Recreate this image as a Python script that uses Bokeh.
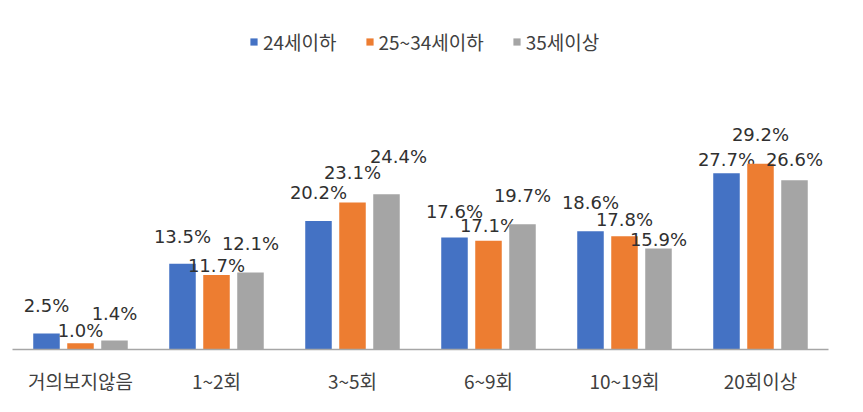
from bokeh.plotting import figure
from bokeh.models import ColumnDataSource, FactorRange, Range1d, Legend, LegendItem
from bokeh.transform import dodge
from bokeh.core.properties import value
from bokeh.embed import file_html
from bokeh.resources import INLINE

# ---- data ----
categories = ["거의보지않음", "1~2회", "3~5회", "6~9회", "10~19회", "20회이상"]
series_names = ["24세이하", "25~34세이하", "35세이상"]
age_24_under = [2.5, 13.5, 20.2, 17.6, 18.6, 27.7]
age_25_34 = [1.0, 11.7, 23.1, 17.1, 17.8, 29.2]
age_35_over = [1.4, 12.1, 24.4, 19.7, 15.9, 26.6]

# ---- layout / style ----
colors = ["#4472C4", "#ED7D31", "#A5A5A5"]
offsets = [-0.25, 0.0, 0.25]
bar_width = 0.195
# data-label placement (pixels above bar top, horizontal shift) as in the original
label_dy = [[28, 27, 29, 26, 29, 14],
            [13, 10, 30, 15, 17, 29],
            [27, 29, 38, 29, 9, 21]]
label_dx = [[0, 0, 0, 0, 0, 0],
            [0, 0, 0, 0, 0, 0],
            [0, 0, 12, 0, 0, 0]]

W, H = 863, 412
top_b, bot_b, left_b, right_b = 15, 63, 12, 35
ppu = 6.36
frame_h = H - top_b - bot_b
y_max = frame_h / ppu

p = figure(width=W, height=H, x_range=FactorRange(factors=categories),
           y_range=Range1d(0, y_max), output_backend="svg", toolbar_location=None,
           y_axis_location=None, min_border_top=top_b, min_border_bottom=bot_b,
           min_border_left=left_b, min_border_right=right_b)
p.outline_line_color = None
p.xgrid.grid_line_color = None
p.ygrid.grid_line_color = None

series = [age_24_under, age_25_34, age_35_over]
items = []
for i, vals in enumerate(series):
    src = ColumnDataSource(dict(
        cat=categories,
        v=vals,
        ly=[v + d / ppu for v, d in zip(vals, label_dy[i])],
        dx=label_dx[i],
        lbl=[f"{v:.1f}%" for v in vals],
    ))
    r = p.vbar(x=dodge("cat", offsets[i], range=p.x_range), top="v", width=bar_width,
               source=src, fill_color=colors[i], line_color=None)
    items.append(LegendItem(label=series_names[i], renderers=[r]))
    p.text(x=dodge("cat", offsets[i], range=p.x_range), y="ly", text="lbl", x_offset="dx",
           source=src, text_align="center", text_baseline="middle",
           text_font=value("DejaVu Sans"), text_font_size="18px", text_color="#303030")

legend = Legend(items=items, orientation="horizontal", location=(237, frame_h - 40),
                glyph_width=9, glyph_height=9, label_standoff=5, spacing=28,
                padding=0, margin=0, border_line_color=None, background_fill_alpha=0,
                label_text_font="Noto Sans CJK KR", label_text_font_size="19px",
                label_text_color="#404040")
p.add_layout(legend, "center")

ax = p.xaxis[0]
ax.axis_line_color = "#A6A6A6"
ax.axis_line_width = 1.5
ax.major_tick_line_color = None
ax.minor_tick_line_color = None
ax.major_label_standoff = 11
ax.major_label_text_font = "Noto Sans CJK KR"
ax.major_label_text_font_size = "19px"
ax.major_label_text_color = "#404040"

open("out.html", "w").write(file_html(p, INLINE))
